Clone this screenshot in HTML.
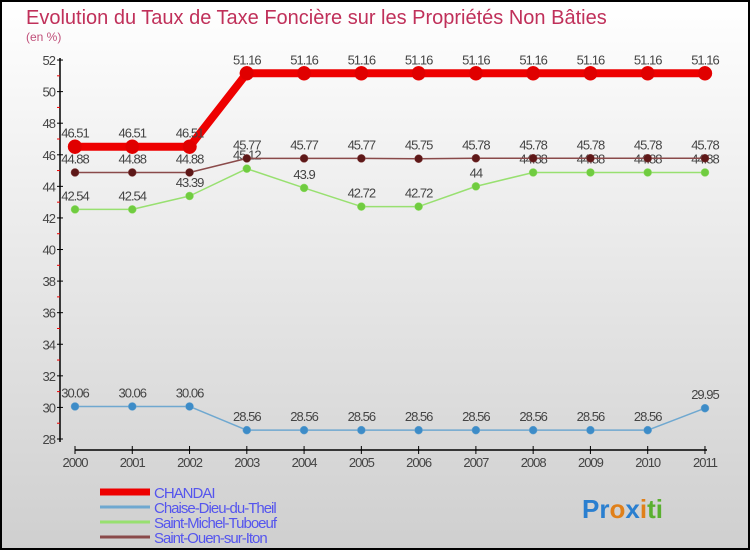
<!DOCTYPE html>
<html><head><meta charset="utf-8"><style>
html,body{margin:0;padding:0}
body{width:750px;height:550px;overflow:hidden;font-family:"Liberation Sans",sans-serif}
svg{display:block}
</style></head><body>
<svg width="750" height="550" xmlns="http://www.w3.org/2000/svg">
<defs><linearGradient id="bg" x1="0" y1="0" x2="0" y2="1"><stop offset="0" stop-color="#ffffff"/><stop offset="1" stop-color="#cfcfcf"/></linearGradient></defs>
<rect x="1" y="1" width="748" height="548" fill="url(#bg)" stroke="#000" stroke-width="2"/>
<text x="26" y="24" font-size="20" fill="#c0305a">Evolution du Taux de Taxe Foncière sur les Propriétés Non Bâties</text>
<text x="26" y="41" font-size="12" fill="#c0507a">(en %)</text>
<g id="axes"></g>
<g id="series"></g>
<g id="legend"></g>
<text x="582" y="518" font-size="26" font-weight="bold"><tspan fill="#2a7fd0">Pr</tspan><tspan fill="#e0801a">o</tspan><tspan fill="#2a7fd0">x</tspan><tspan fill="#e0801a">i</tspan><tspan fill="#5ab030">ti</tspan></text>
</svg>
<script>
const years=["2000","2001","2002","2003","2004","2005","2006","2007","2008","2009","2010","2011"];
const yTicks=[28,30,32,34,36,38,40,42,44,46,48,50,52];
const chandai=[46.51,46.51,46.51,51.16,51.16,51.16,51.16,51.16,51.16,51.16,51.16,51.16];
const chaise=[30.06,30.06,30.06,28.56,28.56,28.56,28.56,28.56,28.56,28.56,28.56,29.95];
const michel=[42.54,42.54,43.39,45.12,43.9,42.72,42.72,44,44.88,44.88,44.88,44.88];
const ouen=[44.88,44.88,44.88,45.77,45.77,45.77,45.75,45.78,45.78,45.78,45.78,45.78];
const names=["CHANDAI","Chaise-Dieu-du-Theil","Saint-Michel-Tuboeuf","Saint-Ouen-sur-Iton"];
const NS="http://www.w3.org/2000/svg";
const X=i=>75+i*57.27;
const Y=v=>439-(v-28)*15.79;
function mk(tag,attrs,parent,txt){const e=document.createElementNS(NS,tag);for(const k in attrs)e.setAttribute(k,attrs[k]);if(txt!==undefined)e.textContent=txt;parent.appendChild(e);return e;}
const ax=document.getElementById('axes');
let e=mk('line',{x1:60,y1:58,x2:60,y2:442,stroke:'#000','stroke-width':1.5},ax);


e=mk('line',{x1:75,y1:450,x2:707,y2:450,stroke:'#000','stroke-width':1.5},ax);


yTicks.forEach((t,i)=>{
  mk('line',{x1:57,y1:Y(t),x2:63,y2:Y(t),stroke:'#000'},ax);
  if(i<yTicks.length-1)mk('line',{x1:57,y1:Y(t+1),x2:60,y2:Y(t+1),stroke:'#e00'},ax);
  const l=mk('text',{x:55,y:Y(t)+5,'font-size':13,fill:'#444','text-anchor':'end','letter-spacing':'-1'},ax,String(t));
  
  
});
years.forEach((y,i)=>{
  mk('line',{x1:X(i),y1:446,x2:X(i),y2:454,stroke:'#000'},ax);
  const l=mk('text',{x:X(i),y:467,'font-size':13,fill:'#444','text-anchor':'middle','letter-spacing':'-1'},ax,y);
  
  
});
const sg=document.getElementById('series');
function series(data,name,lc,lw,mc,r){
  const g=mk('g',{},sg);
  
  
  const pl=mk('polyline',{points:data.map((v,i)=>X(i)+','+Y(v)).join(' '),fill:'none',stroke:lc,'stroke-width':lw,'stroke-linejoin':'round'},g);
  
  
  data.forEach((v,i)=>{
    const c=mk('circle',{cx:X(i),cy:Y(v),r:r,fill:mc,stroke:lc,'stroke-width':0.5},g);
    
    
    const t=mk('text',{x:X(i),y:Y(v)-9,'font-size':13,fill:'#444','text-anchor':'middle','letter-spacing':'-1'},g,String(v));
    
    
  });
}
series(chaise,'chaise-dieu-du-theil','#6fa8d0',1.5,'#3d8cc8',4);
series(michel,'saint-michel-tuboeuf','#98e070',1.5,'#70cc40',4);
series(ouen,'saint-ouen-sur-iton','#8a4a4a',1.5,'#5e1818',4);
series(chandai,'chandai','#ee0000',8,'#e00000',7);
const lg=document.getElementById('legend');
const lcols=['#ee0000','#6fa8d0','#98e070','#8a4a4a'];
names.forEach((n,i)=>{
  const y=492+i*15;
  const ln=mk('line',{x1:100,y1:y,x2:150,y2:y,stroke:lcols[i],'stroke-width':i==0?7:3},lg);
  
  
  const t=mk('text',{x:154,y:y+6,'font-size':15,fill:'#5555ee','letter-spacing':'-1'},lg,n);
  
  
});
</script>
</body></html>
